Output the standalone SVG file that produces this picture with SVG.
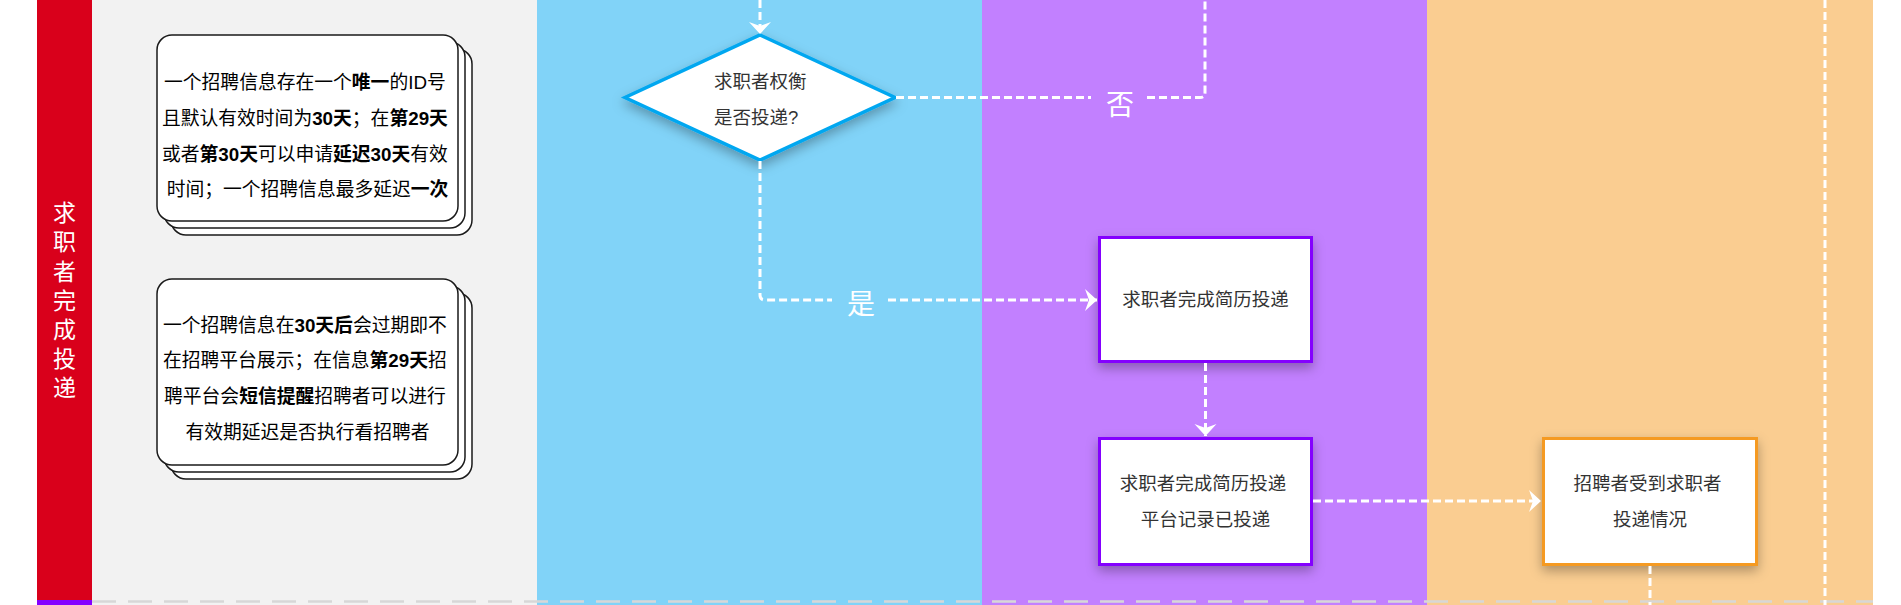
<svg xmlns="http://www.w3.org/2000/svg" width="1901" height="605" viewBox="0 0 1901 605">
<defs>
<style>
.card{fill:#fff;stroke:#1a1a1a;stroke-width:1.5}
.ct{font-family:"Liberation Sans","Noto Sans CJK SC",sans-serif;font-size:18.8px;fill:#000;text-anchor:middle}
.b{font-weight:bold}
.nt{font-family:"Liberation Sans","Noto Sans CJK SC",sans-serif;font-size:18.5px;fill:#333}
.mid{text-anchor:middle}
.conn{fill:none;stroke:#fff;stroke-width:3;stroke-dasharray:8 4}
.lbl{font-family:"Noto Sans CJK SC",sans-serif;font-size:28px;fill:#fff;text-anchor:middle}
.lane-t{font-family:"Noto Sans CJK SC",sans-serif;font-size:23px;fill:#fff;writing-mode:vertical-rl;letter-spacing:6.2px}
</style>
<filter id="sh" x="-20%" y="-20%" width="150%" height="160%">
<feDropShadow dx="0" dy="5" stdDeviation="6" flood-color="#000" flood-opacity="0.3"/>
</filter>
<marker id="arr" markerUnits="userSpaceOnUse" markerWidth="13" markerHeight="23" refX="12" refY="11" orient="auto" viewBox="0 0 13 23">
<path d="M0,0 L12,11 L0,22 L4,11 Z" fill="#fff"/>
</marker>
</defs>

<g id="lanes">
<rect x="37" y="0" width="55" height="605" fill="#D9001B"/>
<rect x="92" y="0" width="445" height="605" fill="#F2F2F2"/>
<rect x="537" y="0" width="445" height="605" fill="#81D3F8"/>
<rect x="982" y="0" width="445" height="605" fill="#C280FF"/>
<rect x="1427" y="0" width="446" height="605" fill="#FACD91"/>
<rect x="37" y="600" width="55" height="5" fill="#8400FF"/>
<line x1="92" y1="601.5" x2="1873" y2="601.5" stroke="#D7D7D7" stroke-width="2.5" stroke-dasharray="24 12"/>
<text class="lane-t" x="64.5" y="201">求职者完成投递</text>
</g>

<g id="note1">
<rect class="card" x="171" y="49" width="301" height="186" rx="15"/>
<rect class="card" x="164" y="42" width="301" height="186" rx="15"/>
<rect class="card" x="157" y="35" width="301" height="186" rx="15"/>
<text class="ct">
<tspan x="307.5" y="88.5">一个招聘信息存在一个<tspan class="b">唯一</tspan>的ID号</tspan>
<tspan x="307.5" y="124.5">且默认有效时间为<tspan class="b">30天</tspan>；在<tspan class="b">第29天</tspan></tspan>
<tspan x="307.5" y="160.5">或者<tspan class="b">第30天</tspan>可以申请<tspan class="b">延迟30天</tspan>有效</tspan>
<tspan x="307.5" y="195.5">时间；一个招聘信息最多延迟<tspan class="b">一次</tspan></tspan>
</text>
</g>

<g id="note2">
<rect class="card" x="171" y="293" width="301" height="186" rx="15"/>
<rect class="card" x="164" y="286" width="301" height="186" rx="15"/>
<rect class="card" x="157" y="279" width="301" height="186" rx="15"/>
<text class="ct">
<tspan x="307.5" y="331.5">一个招聘信息在<tspan class="b">30天后</tspan>会过期即不</tspan>
<tspan x="307.5" y="367">在招聘平台展示；在信息<tspan class="b">第29天</tspan>招</tspan>
<tspan x="307.5" y="403">聘平台会<tspan class="b">短信提醒</tspan>招聘者可以进行</tspan>
<tspan x="307.5" y="439">有效期延迟是否执行看招聘者</tspan>
</text>
</g>

<g id="decision">
<polygon points="760,35 895,97.5 760,160 625,97.5" fill="#fff" stroke="#02A7F0" stroke-width="3.5" filter="url(#sh)"/>
<text class="nt">
<tspan x="714" y="88">求职者权衡</tspan>
<tspan x="714" y="124">是否投递?</tspan>
</text>
</g>

<g id="box1">
<rect x="1099.5" y="237.5" width="212" height="124" fill="#fff" stroke="#8400FF" stroke-width="3" filter="url(#sh)"/>
<text class="nt mid" x="1205.5" y="306">求职者完成简历投递</text>
</g>

<g id="box2">
<rect x="1099.5" y="438.5" width="212" height="126" fill="#fff" stroke="#8400FF" stroke-width="3" filter="url(#sh)"/>
<text class="nt mid">
<tspan x="1205.5" y="490">求职者完成简历投递</tspan>
<tspan x="1205.5" y="526">平台记录已投递</tspan>
</text>
</g>

<g id="box3">
<rect x="1543.5" y="438.5" width="213" height="126" fill="#fff" stroke="#F59A23" stroke-width="3" filter="url(#sh)"/>
<text class="nt mid">
<tspan x="1650" y="490">招聘者受到求职者</tspan>
<tspan x="1650" y="526">投递情况</tspan>
</text>
</g>

<g id="connectors">
<path class="conn" d="M760,0 L760,34" marker-end="url(#arr)"/>
<path class="conn" d="M896,97.5 L1091,97.5"/>
<path class="conn" d="M1147,97.5 L1200,97.5 Q1205,97.5 1205,92.5 L1205,0"/>
<text class="lbl" x="1120" y="114.5">否</text>
<path class="conn" d="M760,161 L760,295 Q760,300 765,300 L832,300"/>
<path class="conn" d="M888,300 L1097,300" marker-end="url(#arr)"/>
<text class="lbl" x="861" y="313.5">是</text>
<path class="conn" d="M1205.5,363 L1205.5,436" marker-end="url(#arr)"/>
<path class="conn" d="M1313,501 L1541,501" marker-end="url(#arr)"/>
<path class="conn" d="M1650,566 L1650,605"/>
<path class="conn" d="M1825,0 L1825,605"/>
</g>
</svg>
